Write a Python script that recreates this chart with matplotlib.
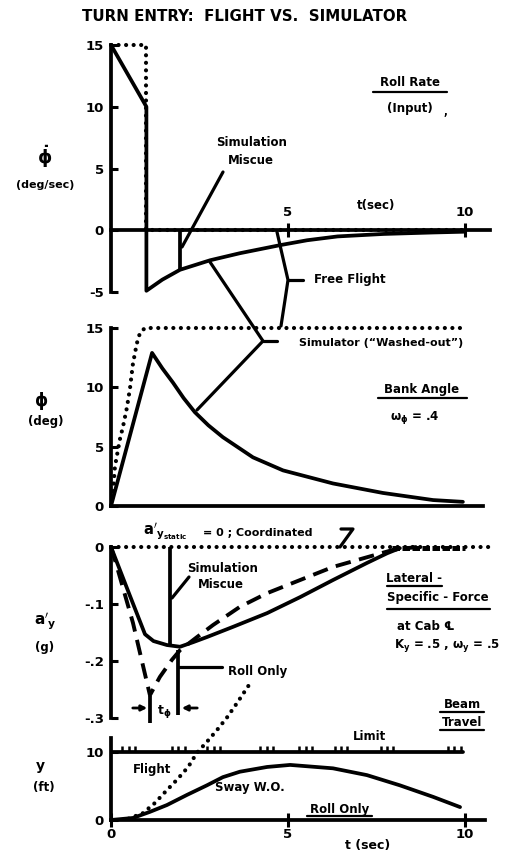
import numpy as np
import matplotlib.pyplot as plt

plt.rcParams['font.family'] = ['DejaVu Sans']
plt.rcParams['font.weight'] = 'bold'
plt.rcParams['mathtext.fontset'] = 'dejavusans'
plt.rcParams['mathtext.default'] = 'bf'

# ---- data ----
# roll rate (deg/sec)
sim_rate_t = [0, 1.0, 1.0, 1.45, 1.95, 2.8, 3.64, 4.77, 5.54, 6.4, 7.7, 9.1, 9.96]
sim_rate = [15, 10, -4.9, -4.0, -3.2, -2.43, -1.86, -1.21, -0.81, -0.5, -0.3, -0.18, -0.12]
free_rate_t = [0, 1.0, 1.0, 10.0]
free_rate = [15, 15, 0, 0]
miscue_rate_t = 1.95
miscue_rate = -3.2

# bank angle (deg)
sim_bank_t = [0, 1.16, 1.45, 1.75, 2.05, 2.37, 2.75, 3.16, 4.01, 4.86, 6.27, 7.68, 9.10, 9.94]
sim_bank = [0, 12.9, 11.6, 10.4, 9.1, 7.9, 6.8, 5.8, 4.1, 3.0, 1.9, 1.1, 0.5, 0.35]
free_bank_t = [0, 0.06, 0.11, 0.25, 0.34, 0.45, 0.54, 0.62, 0.73, 0.82, 0.96, 9.94]
free_bank = [0, 1.1, 3.3, 5.6, 6.7, 8.3, 10.0, 12.0, 13.7, 14.6, 15, 15]

# lateral specific force at cab (g)
sway_ay_t = [0, 0.5, 0.96, 1.2, 1.58, 1.95, 2.32, 2.71, 3.45, 4.41, 5.34, 6.27, 7.23, 7.80, 8.16]
sway_ay = [0, -0.08, -0.153, -0.165, -0.172, -0.175, -0.167, -0.158, -0.140, -0.116,
           -0.088, -0.058, -0.028, -0.011, -0.002]
roll_ay_t = [0, 0.17, 0.62, 1.02, 1.10, 1.38, 1.72, 1.95, 2.43, 2.88, 3.64, 4.41,
             5.34, 6.27, 7.23, 7.97, 8.64]
roll_ay = [0, -0.035, -0.133, -0.239, -0.26, -0.228, -0.198, -0.181, -0.158, -0.137,
           -0.105, -0.081, -0.058, -0.035, -0.018, -0.005, 0]
coord_t = [0, 10.7]
coord_ay = [0, 0]
merge_t = [7.95, 10.0]
miscue_ay_t = 1.67
miscue_ay = -0.172
tphi_t = [1.1, 1.9]

# cab travel (ft)
sway_y_t = [0, 0.62, 1.10, 1.58, 2.15, 2.71, 3.16, 3.64, 4.41, 5.06, 6.27, 7.23, 8.16, 9.10, 9.86]
sway_y = [0, 0.3, 1.2, 2.2, 3.7, 5.1, 6.3, 7.1, 7.8, 8.1, 7.6, 6.6, 5.1, 3.4, 1.9]
flight_y_t = [0.5, 0.90, 1.24, 1.58, 1.86, 2.18, 2.43, 2.71, 2.99, 3.28, 3.56, 3.84, 3.93]
flight_y = [0.2, 1.0, 2.5, 4.4, 5.9, 7.8, 9.9, 11.5, 13.2, 15.1, 17.2, 19.4, 20.1]
limit_t = [0, 9.95]
limit_y = [10, 10]
limit_marks_t = [0.5, 1.9, 2.9, 4.4, 5.5, 6.5, 7.8, 9.7]

# ---- layout (pixels) ----
W, H = 508, 857
X0 = 111          # t = 0
PX_PER_S = 35.4
XMAX = 10.7
LW = 2.7
DOT = dict(color='k', lw=3.0, ls=(0, (0.01, 1.8)), dash_capstyle='round')
DASH = dict(color='k', lw=2.8, ls=(0, (4.0, 2.2)))
SOL = dict(color='k', lw=LW, solid_capstyle='round', solid_joinstyle='round')
FS = 8.5

fig = plt.figure(figsize=(W / 100, H / 100), dpi=100)


def make_ax(top, bot, ylim):
    ax = fig.add_axes([X0 / W, 1 - bot / H, XMAX * PX_PER_S / W, (bot - top) / H])
    ax.set_xlim(0, XMAX)
    ax.set_ylim(*ylim)
    ax.patch.set_alpha(0)
    for s in ['top', 'right']:
        ax.spines[s].set_visible(False)
    for s in ['left', 'bottom']:
        ax.spines[s].set_linewidth(LW)
    ax.tick_params(axis='y', direction='in', length=5, width=2.2, pad=5, labelsize=9.5)
    ax.tick_params(axis='x', direction='inout', length=10, width=2.2, labelsize=9.5, pad=1)
    return ax


# panel 1: roll rate
ax1 = make_ax(45, 292, (-5, 15))
ax1.spines['bottom'].set_position(('data', 0))
ax1.set_xticks([5, 10], labels=['', ''])
ax1.set_yticks([15, 10, 5, 0, -5], labels=['15', '10', '5', '0', '-5'])
for t, lbl in [(5, '5'), (10, '10')]:
    ax1.text(t, 1.4, lbl, ha='center', va='center', fontsize=9.5)
ax1.plot(free_rate_t, free_rate, **DOT, clip_on=False)
ax1.plot(sim_rate_t, sim_rate, **SOL, clip_on=False)
ax1.vlines(miscue_rate_t, miscue_rate, 0, color='k', lw=LW)

# panel 2: bank angle
ax2 = make_ax(328, 506, (0, 15))
ax2.spines['bottom'].set_bounds(0, 10.5)
ax2.set_xticks([])
ax2.set_yticks([15, 10, 5, 0], labels=['15', '10', '5', '0'])
ax2.plot(free_bank_t, free_bank, **DOT, clip_on=False)
ax2.plot(sim_bank_t, sim_bank, **SOL, clip_on=False)

# panel 3: lateral specific force
ax3 = make_ax(547, 718, (-0.3, 0))
ax3.spines['bottom'].set_visible(False)
ax3.set_xticks([])
ax3.set_yticks([0, -0.1, -0.2, -0.3], labels=['0', '-.1', '-.2', '-.3'])
ax3.plot(coord_t, coord_ay, **DOT, clip_on=False)
ax3.plot(sway_ay_t, sway_ay, **SOL, clip_on=False)
ax3.plot(roll_ay_t, roll_ay, **DASH, clip_on=False)
ax3.plot(merge_t, [-0.002, -0.002], color='k', lw=3.6, ls=(0, (1.5, 0.5)), clip_on=False)
ax3.vlines(miscue_ay_t, miscue_ay, 0.004, color='k', lw=LW)
ax3.vlines(tphi_t[0], -0.262, -0.308, color='k', lw=LW, clip_on=False)
ax3.vlines(tphi_t[1], -0.18, -0.295, color='k', lw=LW, clip_on=False)

# panel 4: cab travel
ax4 = make_ax(738.4, 820, (0, 12))
ax4.spines['bottom'].set_bounds(0, 10.56)
ax4.set_xticks([0, 5, 10], labels=['0', '5', '10'])
ax4.set_yticks([10, 0], labels=['10', '0'])
ax4.plot(limit_t, limit_y, **SOL)
for c in limit_marks_t:
    ax4.vlines([c - 0.18, c, c + 0.18], 10, 10.9, color='k', lw=1.8)
ax4.plot(sway_y_t, sway_y, **SOL, clip_on=False)
ax4.plot(flight_y_t, flight_y, **DOT, clip_on=False)

# ---- overlay for labels and leader lines (pixel coordinates) ----
ov = fig.add_axes([0, 0, 1, 1])
ov.set_xlim(0, W)
ov.set_ylim(H, 0)
ov.axis('off')
ov.patch.set_alpha(0)


def txt(x, y, s, size=FS, ha='center'):
    ov.text(x, y, s, fontsize=size, ha=ha, va='center', fontweight='bold')


def line(xs, ys, lw=2.3):
    ov.plot(xs, ys, color='k', lw=lw, solid_capstyle='round')


txt(245, 16, 'TURN ENTRY:  FLIGHT VS.  SIMULATOR', size=10.8)

# panel 1 labels
txt(45, 157, r'$\dot{\phi}$', size=13)
txt(45, 185, '(deg/sec)', size=8)
txt(410, 82, 'Roll Rate')
line([373, 447], [92, 92], lw=1.6)
txt(410, 108, '(Input)')
txt(445, 112, ',', size=7)
txt(252, 142, 'Simulation')
txt(251, 160, 'Miscue')
line([223, 182], [172, 247])
txt(376, 205, 't(sec)', size=8.5)
txt(350, 280, 'Free Flight')
line([277, 288, 285, 281], [232, 280, 300, 326])
line([288, 303], [280, 280])

# panel 2 labels
txt(41, 401, r'$\phi$', size=12)
txt(46, 421, '(deg)')
txt(381, 343, 'Simulator (\u201cWashed-out\u201d)', size=8)
line([210, 263, 197], [262, 341, 410])
line([263, 277], [341, 341])
txt(422, 389, 'Bank Angle')
line([378, 467], [398, 398], lw=1.6)
txt(415, 417, r'$\omega_\phi$ = .4')

# panel 3 labels
txt(45, 621, r"$a'_y$", size=11)
txt(45, 647, '(g)')
txt(143, 531, r"$a'_{y_{static}}$", size=10.5, ha='left')
txt(203, 533, '= 0 ; Coordinated', size=8, ha='left')
line([341, 353, 340], [529, 529, 547])
txt(223, 568, 'Simulation')
txt(221, 585, 'Miscue')
line([172, 189], [598, 577])
txt(258, 672, 'Roll Only')
line([178, 222], [667, 667])
txt(414, 578, 'Lateral -')
line([387, 442], [586, 586], lw=1.6)
txt(438, 597, 'Specific - Force')
line([387, 490], [609, 609], lw=1.6)
txt(426, 627, 'at Cab \u2104')
txt(447, 646, r'K$_y$ = .5 , $\omega_y$ = .5')
ov.annotate('', xy=(150, 708), xytext=(130, 708),
            arrowprops=dict(arrowstyle='-|>', color='k', lw=2.0, mutation_scale=8))
ov.annotate('', xy=(179, 708), xytext=(200, 708),
            arrowprops=dict(arrowstyle='-|>', color='k', lw=2.0, mutation_scale=8))
txt(164, 711, r'$t_\phi$', size=9)

# panel 4 labels
txt(40, 766, 'y', size=10)
txt(44, 788, '(ft)')
txt(368, 845, 't (sec)', size=9)
txt(152, 770, 'Flight')
txt(250, 788, 'Sway W.O.')
txt(340, 809, 'Roll Only')
line([307, 372], [816, 816], lw=1.6)
txt(370, 737, 'Limit')
txt(462, 705, 'Beam')
line([440, 484], [712, 712], lw=1.6)
txt(462, 722, 'Travel')
line([440, 484], [730, 730], lw=1.6)

fig.savefig('out.png', dpi=100)
